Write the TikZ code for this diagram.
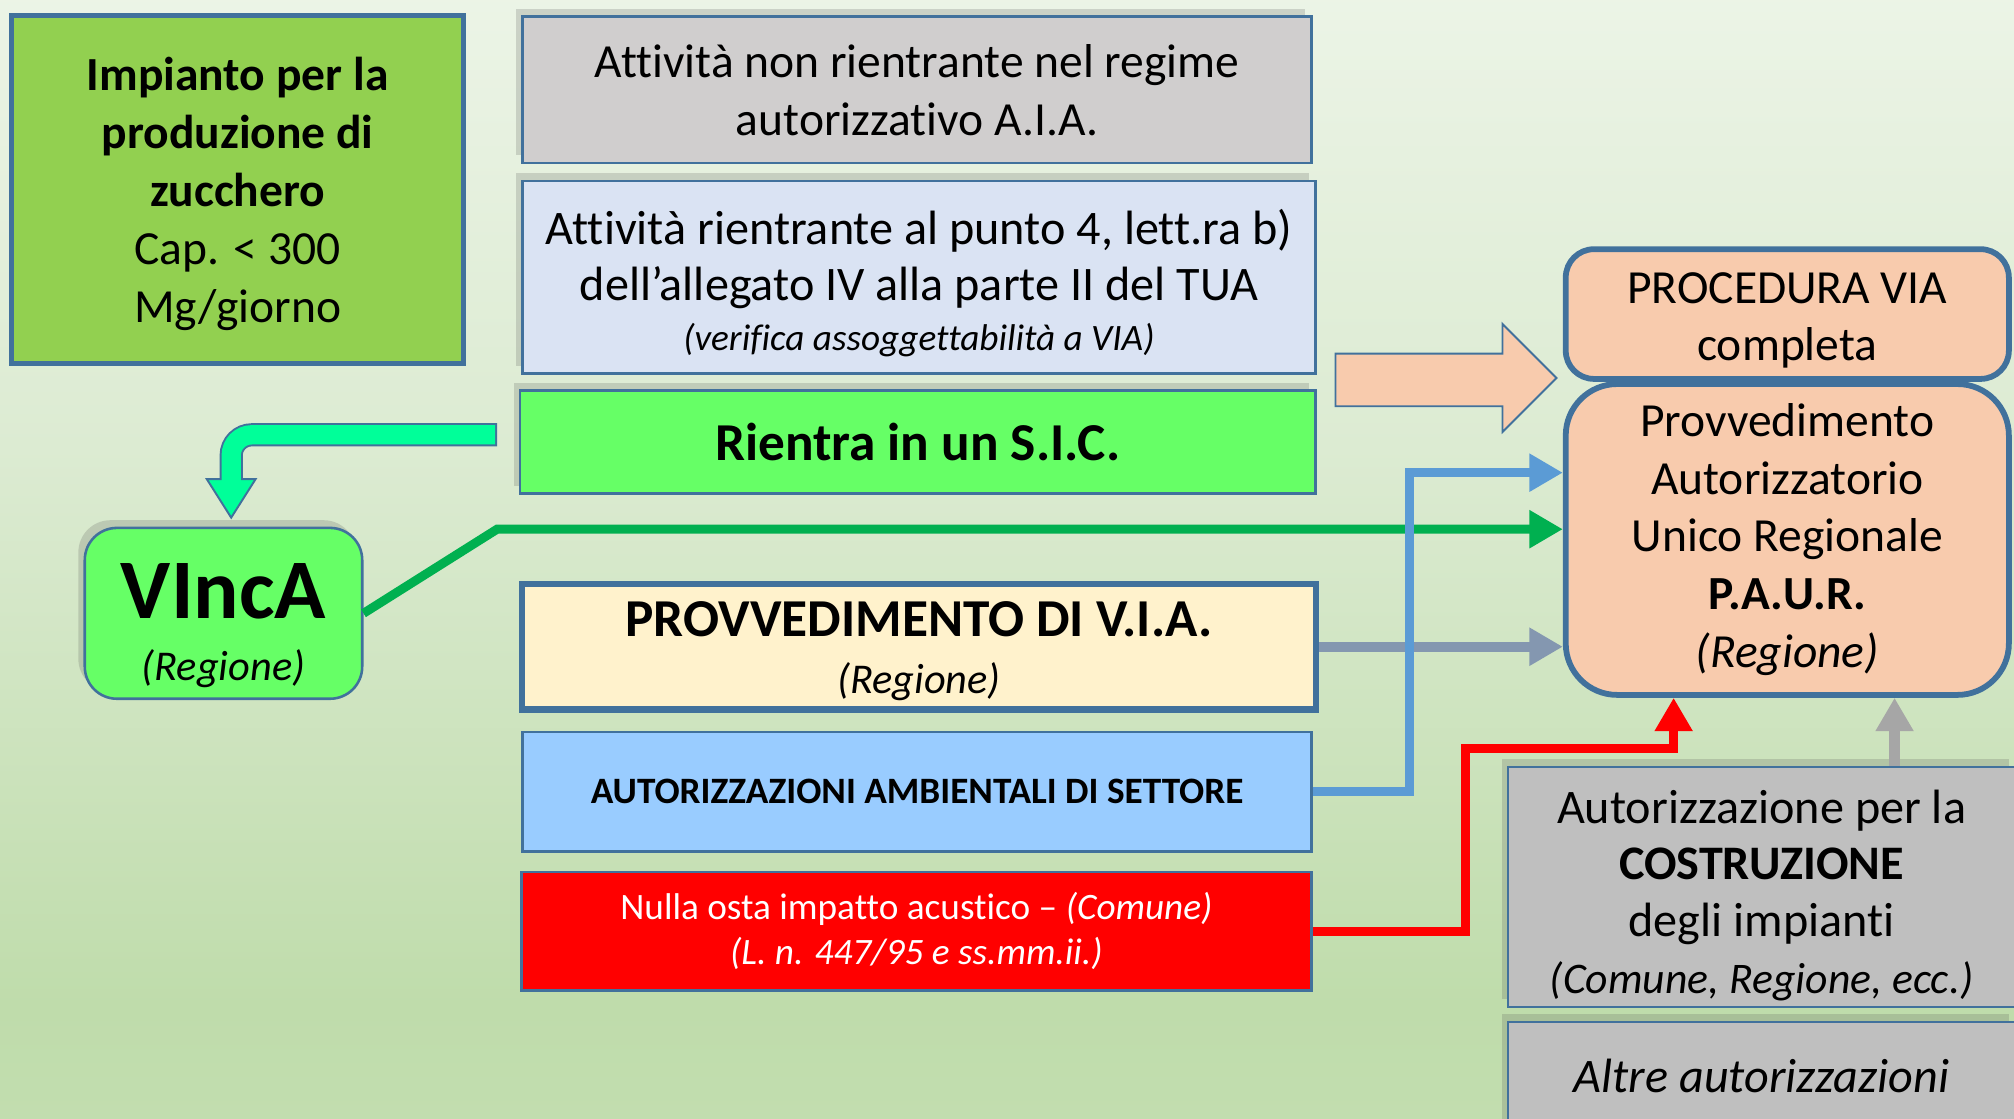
\documentclass[tikz,border=0pt]{standalone}
\usepackage{fontspec}
\setmainfont[Ligatures=NoCommon]{Carlito}
\usepackage{tikz}
\usetikzlibrary{calc}
\usetikzlibrary{arrows.meta}
\usetikzlibrary{shadows}
\definecolor{frameblue}{HTML}{41719C}
\definecolor{plantgreen}{HTML}{92D050}
\definecolor{greybox}{HTML}{D0CECE}
\definecolor{paleblue}{HTML}{DAE3F3}
\definecolor{brightgreen}{HTML}{66FF66}
\definecolor{cream}{HTML}{FFF2CC}
\definecolor{skyblue}{HTML}{99CCFF}
\definecolor{peach}{HTML}{F8CBAD}
\definecolor{silver}{HTML}{BFBFBF}
\definecolor{springgreen}{HTML}{00FF99}
\definecolor{vincaline}{HTML}{00B050}
\definecolor{settoreline}{HTML}{5B9BD5}
\definecolor{vialine}{HTML}{8497B0}
\definecolor{costrline}{HTML}{A6A6A6}
\definecolor{bgbottom}{HTML}{D1E5C3}
\definecolor{bgmid}{HTML}{BFDCAB}
\definecolor{bgmid2}{HTML}{DCEBD2}
\pgfdeclareverticalshading{bgfade}{100bp}{color(0bp)=(bgbottom); color(30bp)=(bgmid); color(55bp)=(bgmid2); color(100bp)=(white)}
\tikzset{box/.style={draw=frameblue, line width=2pt, inner sep=0pt, align=center, font=\fontsize{37}{45}\selectfont}}
\tikzset{shadowed/.style={general shadow={fill=black!70, opacity=.2, shadow xshift=-5pt, shadow yshift=6pt}}}
\tikzset{link/.style={line width=7pt, -{Triangle[length=26pt,width=28pt]}}}

\begin{document}
\begin{tikzpicture}[x=1pt, y=-1pt]
\useasboundingbox (0,0) rectangle (1568,871);
\clip (0,0) rectangle (1568,871);
\shade[shading=bgfade] (0,0) rectangle (1568,871);
% left column
\node[box, fill=plantgreen, line width=4pt, minimum width=352pt, minimum height=271pt] (plant) at (185,147.5)
  {\rule{0pt}{33pt}\textbf{Impianto per la}\\\textbf{produzione di}\\\textbf{zucchero}\\Cap. < 300\\Mg/giorno};
\node[box, shadowed, fill=brightgreen, rounded corners=25pt, minimum width=216pt, minimum height=133pt] (vinca) at (174,477.5)
  {\rule{0pt}{62pt}{\fontsize{66}{70}\selectfont\bfseries VIncA}\\[4pt]{\fontsize{33}{38}\selectfont\itshape (Regione)}};
% middle column
\node[box, shadowed, fill=greybox, minimum width=614pt, minimum height=114pt] (noaia) at (714,70)
  {Attività non rientrante nel regime\\autorizzativo A.I.A.};
\node[box, shadowed, fill=paleblue, minimum width=617pt, minimum height=150pt, font=\fontsize{37.5}{44}\selectfont] (verif) at (715.5,216)
  {\rule{0pt}{36pt}Attività rientrante al punto 4, lett.ra b)\\dell’allegato IV alla parte II del TUA\\[-5pt]{\fontsize{29}{34}\selectfont\itshape (verifica assoggettabilità a VIA)}};
\node[box, shadowed, fill=brightgreen, minimum width=619pt, minimum height=80pt, font=\fontsize{41.5}{48}\selectfont\bfseries] (sic) at (714.5,344)
  {Rientra in un S.I.C.};
\node[box, fill=cream, line width=5pt, minimum width=618pt, minimum height=98pt] (provvia) at (715.5,503.5)
  {\rule{0pt}{34pt}{\fontsize{41.5}{44}\selectfont\bfseries PROVVEDIMENTO DI V.I.A.}\\{\fontsize{33}{44}\selectfont\itshape (Regione)}};
\node[box, fill=skyblue, minimum width=614pt, minimum height=93pt, font=\fontsize{29}{34}\selectfont\bfseries] (settore) at (714,616.5)
  {AUTORIZZAZIONI AMBIENTALI DI SETTORE};
\node[box, fill=red, text=white, minimum width=615pt, minimum height=92pt, font=\fontsize{29}{35}\selectfont] (acust) at (713.5,725)
  {Nulla osta impatto acustico – \textit{(Comune)}\\\textit{(L. n. 447/95 e ss.mm.ii.)}};
% right column
\node[box, fill=peach, line width=4.5pt, rounded corners=22pt, minimum width=345pt, minimum height=101pt] (procvia) at (1391.5,244.5)
  {\rule{0pt}{34pt}PROCEDURA VIA\\completa};
\node[box, fill=peach, line width=4.5pt, rounded corners=40pt, minimum width=345pt, minimum height=242pt] (paur) at (1391.5,420)
  {Provvedimento\\Autorizzatorio\\Unico Regionale\\\textbf{P.A.U.R.}\\\textit{(Regione)}};
\node[box, shadowed, fill=silver, minimum width=395pt, minimum height=187pt, font=\fontsize{37.5}{44}\selectfont] (costr) at (1371.5,690.5)
  {\rule{0pt}{39pt}Autorizzazione per la\\\textbf{COSTRUZIONE}\\degli impianti\\{\fontsize{34}{42}\selectfont\itshape (Comune, Regione, ecc.)}};
\node[box, shadowed, fill=silver, minimum width=395pt, minimum height=85pt, font=\fontsize{37.5}{44}\selectfont\itshape] (altre) at (1371.5,838)
  {Altre autorizzazioni};
% block arrow to the VIA procedure
\coordinate (ptip) at ($(procvia.south west)+(-5,-3)$);
\filldraw[fill=peach, draw=frameblue, line width=1.5pt] (ptip) -- ++(-42,-42) -- ++(0,23) -- ++(-130,0) -- ++(0,41) -- ++(130,0) -- ++(0,20) -- cycle;
% bent arrow from S.I.C. to VIncA
\coordinate (sicin) at ($(sic.west)+(-17,-5.5)$);
\coordinate (vtip) at ($(vinca.north)+(6,-7)$);
\draw[line width=18pt, draw=frameblue, rounded corners=16pt] (sicin) -| ($(vtip)+(0,-29)$);
\filldraw[fill=springgreen, draw=frameblue, line width=1.5pt] (vtip) -- ++(-19,-30) -- ++(38,0) -- cycle;
\draw[line width=15pt, draw=springgreen, rounded corners=16pt] ($(sicin)+(-1.5,0)$) -| ($(vtip)+(0,-28)$);
% connectors into the P.A.U.R.
\coordinate (gbend) at (387,412);
\coordinate (bjoin) at (1097,368);
\coordinate (rbend) at (1141,583);
\coordinate (rx) at (1303,0);
\coordinate (gx) at (1475,0);
\draw[link, draw=vincaline] (vinca.east) -- (gbend) -- (gbend -| paur.west);
\draw[link, draw=vialine, line width=8pt] (provvia.east) -- (provvia.east -| paur.west);
\draw[link, draw=settoreline] (settore.east) -| (bjoin) -- (bjoin -| paur.west);
\draw[link, draw=red] (acust.east) -| (rbend) -| (rx |- paur.south);
\draw[link, draw=costrline, line width=8pt] (gx |- costr.north) -- (gx |- paur.south);
\end{tikzpicture}
\end{document}
